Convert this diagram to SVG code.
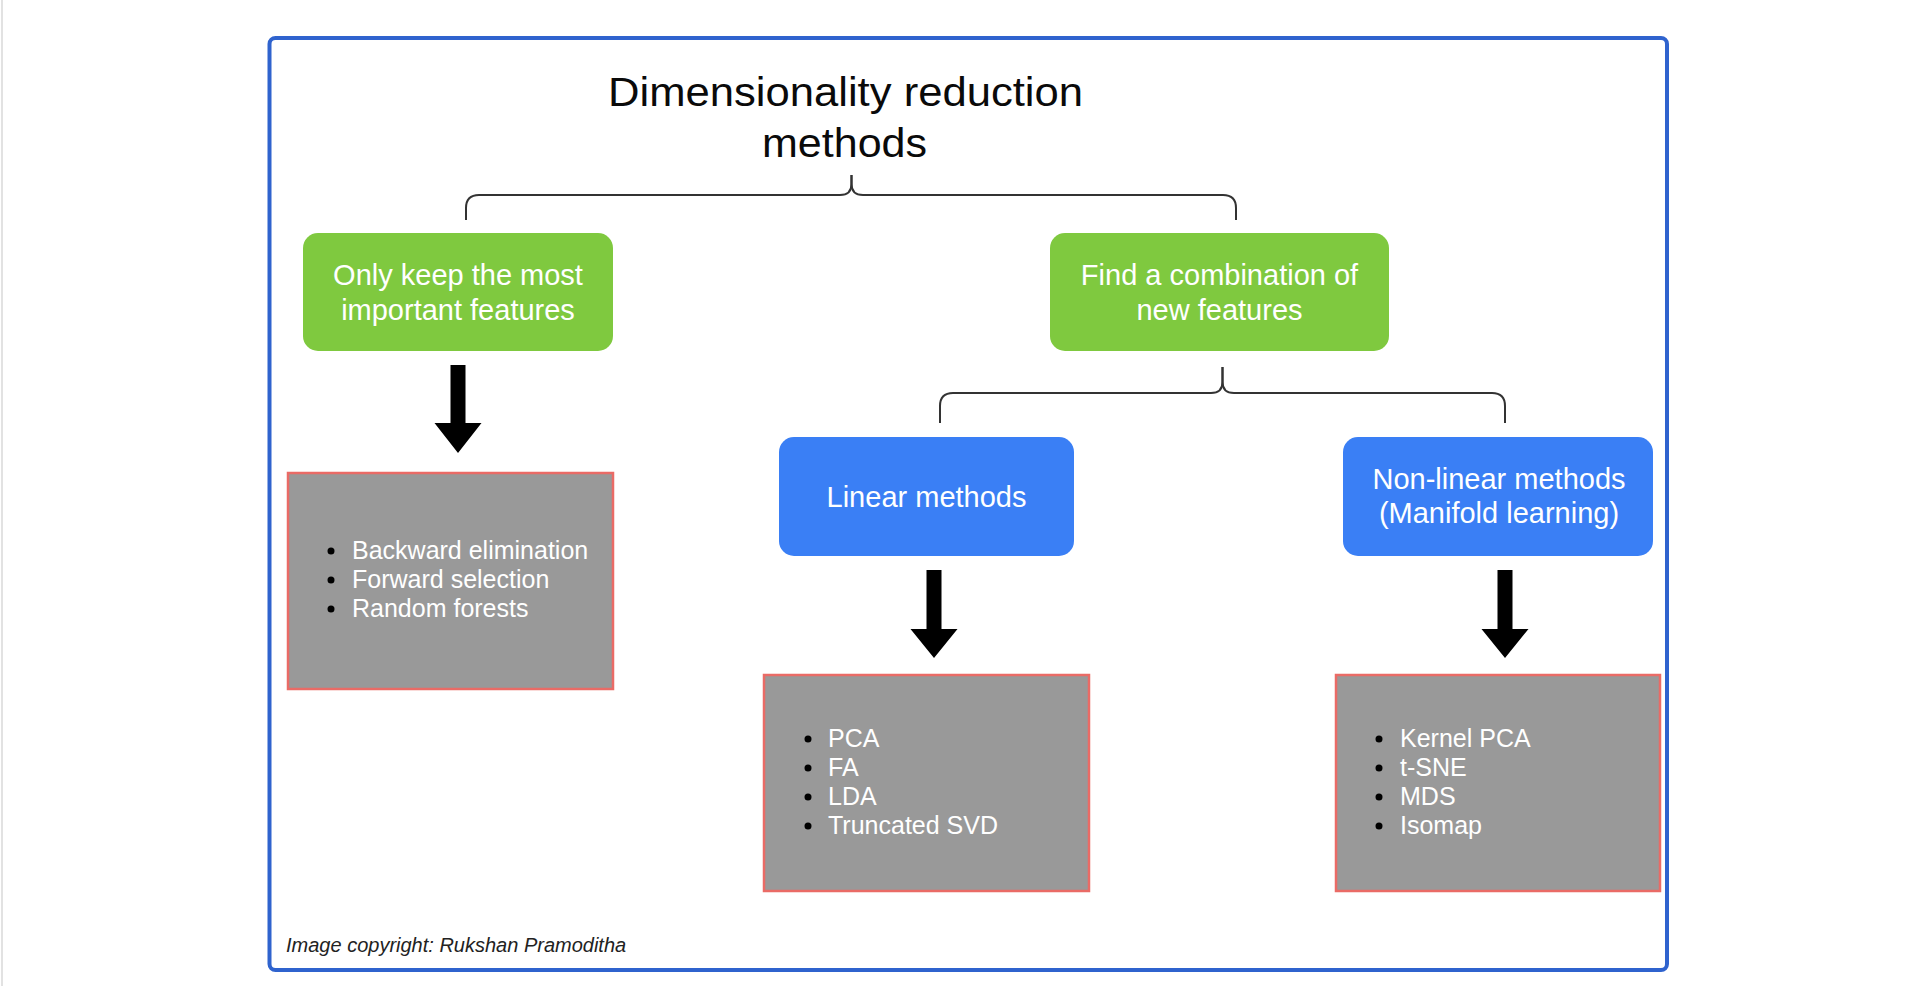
<svg xmlns="http://www.w3.org/2000/svg" width="1922" height="986" viewBox="0 0 1922 986">
<style>
.frame{fill:#fff;stroke:#2F63CE;stroke-width:4}
.green{fill:#7FC93F}
.blue{fill:#3A7FF5}
.gray{fill:#999999;stroke:#EA6B66;stroke-width:2.5}
.lbl{font-family:"Liberation Sans",Arial,sans-serif;font-size:29px;fill:#fff;text-anchor:middle}
.item{font-family:"Liberation Sans",Arial,sans-serif;font-size:25px;fill:#fff}
.title{font-family:"Liberation Sans",Arial,sans-serif;font-size:41px;fill:#0a0a0a}
.brace{fill:none;stroke:#333;stroke-width:2}
.arrow{fill:#000}
.dot{fill:#000}
.copy{font-family:"Liberation Sans",Arial,sans-serif;font-size:20px;font-style:italic;fill:#222}
</style>
<rect width="1922" height="986" fill="#fff"/>
<line x1="2" y1="0" x2="2" y2="986" stroke="#e2e2e2" stroke-width="2"/>
<rect class="frame" x="269.5" y="38" width="1397.5" height="932" rx="6"/>
<g id="title">
<text class="title" x="608" y="105.5" textLength="475" lengthAdjust="spacingAndGlyphs">Dimensionality reduction</text>
<text class="title" x="762" y="157" textLength="165" lengthAdjust="spacingAndGlyphs">methods</text>
</g>
<g id="connectors">
<path class="brace" d="M466,220 V208 Q466,195 479,195 H840 Q851.5,195 851.5,184 V175"/>
<path class="brace" d="M851.5,175 V184 Q851.5,195 863,195 H1223 Q1236,195 1236,208 V220"/>
<path class="brace" d="M940,423 V406 Q940,393 953,393 H1211 Q1222.5,393 1222.5,382 V367"/>
<path class="brace" d="M1222.5,367 V382 Q1222.5,393 1234,393 H1492 Q1505,393 1505,406 V423"/>
<polygon class="arrow" points="450.5,365 465.5,365 465.5,423 481.5,423 458,453 434.5,423 450.5,423"/>
<polygon class="arrow" points="926.5,570 941.5,570 941.5,629 957.5,629 934,658 910.5,629 926.5,629"/>
<polygon class="arrow" points="1497.5,570 1512.5,570 1512.5,629 1528.5,629 1505,658 1481.5,629 1497.5,629"/>
</g>
<g id="keep">
<rect class="green" x="303" y="233" width="310" height="118" rx="15"/>
<text class="lbl" x="458" y="285">Only keep the most</text>
<text class="lbl" x="458" y="320">important features</text>
</g>
<g id="combine">
<rect class="green" x="1050" y="233" width="339" height="118" rx="15"/>
<text class="lbl" x="1219.5" y="285">Find a combination of</text>
<text class="lbl" x="1219.5" y="320">new features</text>
</g>
<g id="linear">
<rect class="blue" x="779" y="437" width="295" height="119" rx="15"/>
<text class="lbl" x="926.5" y="507">Linear methods</text>
</g>
<g id="nonlinear">
<rect class="blue" x="1343" y="437" width="310" height="119" rx="15"/>
<text class="lbl" x="1499" y="489">Non-linear methods</text>
<text class="lbl" x="1499" y="523">(Manifold learning)</text>
</g>
<g id="selection-list">
<rect class="gray" x="288" y="473" width="325" height="216"/>
<circle class="dot" cx="331" cy="551" r="3.5"/><text class="item" x="352" y="559">Backward elimination</text>
<circle class="dot" cx="331" cy="580" r="3.5"/><text class="item" x="352" y="588">Forward selection</text>
<circle class="dot" cx="331" cy="609" r="3.5"/><text class="item" x="352" y="617">Random forests</text>
</g>
<g id="linear-list">
<rect class="gray" x="764" y="675" width="325" height="216"/>
<circle class="dot" cx="808" cy="739" r="3.5"/><text class="item" x="828" y="747">PCA</text>
<circle class="dot" cx="808" cy="768" r="3.5"/><text class="item" x="828" y="776">FA</text>
<circle class="dot" cx="808" cy="797" r="3.5"/><text class="item" x="828" y="805">LDA</text>
<circle class="dot" cx="808" cy="826" r="3.5"/><text class="item" x="828" y="834">Truncated SVD</text>
</g>
<g id="nonlinear-list">
<rect class="gray" x="1336" y="675" width="324" height="216"/>
<circle class="dot" cx="1379" cy="739" r="3.5"/><text class="item" x="1400" y="747">Kernel PCA</text>
<circle class="dot" cx="1379" cy="768" r="3.5"/><text class="item" x="1400" y="776">t-SNE</text>
<circle class="dot" cx="1379" cy="797" r="3.5"/><text class="item" x="1400" y="805">MDS</text>
<circle class="dot" cx="1379" cy="826" r="3.5"/><text class="item" x="1400" y="834">Isomap</text>
</g>
<text class="copy" x="286" y="952">Image copyright: Rukshan Pramoditha</text>
</svg>
